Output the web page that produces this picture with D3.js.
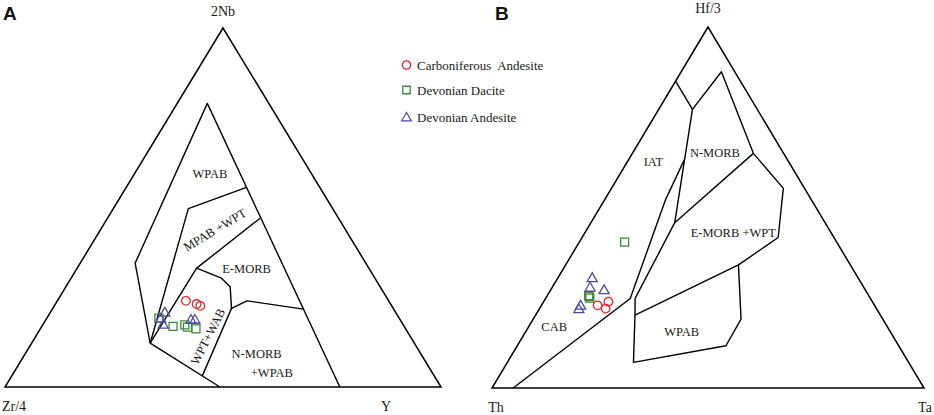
<!DOCTYPE html>
<html>
<head>
<meta charset="utf-8">
<script src="https://cdn.jsdelivr.net/npm/d3@7/dist/d3.min.js"></script>
<style>
  html, body { margin: 0; padding: 0; background: #fff; }
  svg { display: block; }
  .serif { font-family: "Liberation Serif", "Times New Roman", serif; fill: #1a1a1a; }
  .panel { font-family: "Liberation Sans", Arial, sans-serif; font-weight: bold; fill: #111; }
</style>
</head>
<body>
<svg id="chart" width="934" height="415"></svg>
<script>
// ---------------- DATA ----------------
// Ternary compositions in percent, order = [top, left, right]
const vertexLabelsA = ["2Nb", "Zr/4", "Y"];
const vertexLabelsB = ["Hf/3", "Th", "Ta"];
const seriesNames = ["Carboniferous  Andesite", "Devonian Dacite", "Devonian Andesite"];

// Panel A: [2Nb, Zr/4, Y]
const carbAndesiteA = [[24.0, 46.5, 29.5], [23.1, 44.5, 32.4], [22.6, 43.9, 33.5]];
const devDaciteA = [[19.2, 55.1, 25.7], [16.9, 53.0, 30.1], [17.3, 50.1, 32.6], [16.7, 49.8, 33.5], [16.2, 48.1, 35.7]];
const devAndesiteA = [[20.9, 52.9, 26.2], [19.2, 54.7, 26.1], [17.5, 54.9, 27.5], [18.9, 47.9, 33.2], [18.9, 47.0, 34.1]];

// Panel B: [Hf/3, Th, Ta]
const carbAndesiteB = [[22.9, 64.1, 13.0], [23.9, 61.1, 15.0], [22.0, 62.7, 15.3]];
const devDaciteB = [[40.4, 49.1, 10.5], [25.3, 64.9, 9.8], [24.9, 64.9, 10.2], [25.6, 64.8, 9.6]];
const devAndesiteB = [[30.6, 61.5, 7.9], [28.0, 63.3, 8.7], [27.3, 60.4, 12.3], [23.0, 68.0, 9.0], [22.0, 68.9, 9.1]];

// Field boundaries, panel A (Meschede 1986)
const fieldLinesA = [
  [[0, 23.2, 76.8], [79.0, 14.1, 6.9], [34.5, 52.9, 12.6], [12.2, 60.6, 27.2], [0, 50.7, 49.3]],
  [[55.6, 16.8, 27.6], [49.7, 33.1, 17.2], [12.2, 60.6, 27.2]],
  [[47.0, 18.0, 35.0], [33.1, 39.5, 27.4], [12.2, 60.6, 27.2]],
  [[33.1, 39.5, 27.4], [30.3, 35.2, 34.5], [27.9, 34.4, 37.7], [21.9, 37.1, 41.0], [3.1, 53.2, 43.7]],
  [[21.9, 37.1, 41.0], [24.0, 32.5, 43.5], [21.7, 20.7, 57.6]]
];
// Field boundaries, panel B (Wood 1980)
const fieldLinesB = [
  [[85.0, 15.0, 0], [77.2, 15.0, 7.8]],
  [[77.2, 15.0, 7.8], [87.6, 3.1, 9.3], [65.0, 7.0, 28.0], [55.3, 4.9, 39.8], [52.1, 6.8, 41.1], [41.7, 12.9, 45.4]],
  [[77.2, 15.0, 7.8], [45.8, 34.8, 19.4], [24.8, 54.4, 20.7], [20.2, 56.8, 23.0]],
  [[63.2, 23.9, 12.9], [52.1, 33.8, 14.1], [24.8, 55.6, 19.6], [0, 95.1, 4.9]],
  [[65.0, 7.0, 28.0], [45.8, 34.8, 19.4]],
  [[41.7, 12.9, 45.4], [34.1, 25.9, 40.0], [20.2, 56.8, 23.0]],
  [[20.2, 56.8, 23.0], [7.1, 63.7, 29.2], [11.7, 40.0, 48.3], [19.1, 32.8, 48.1], [34.1, 25.9, 40.0]]
];

// Field labels: [text, ternary position, rotation]
const fieldLabelsA = [
  ["WPAB", [59.3, 23.4, 17.4], 0],
  ["MPAB +WPT", [43.7, 30.0, 26.3], -31],
  ["E-MORB", [32.8, 28.2, 39.0], 0],
  ["WPT+WAB", [14.0, 46.4, 39.6], -63],
  ["N-MORB", [9.2, 37.7, 53.1], 0],
  ["+WPAB", [4.0, 36.8, 59.2], 0]
];
const fieldLabelsB = [
  ["IAT", [62.7, 31.3, 6.0], 0],
  ["N-MORB", [65.0, 15.9, 19.1], 0],
  ["E-MORB +WPT", [42.9, 22.7, 34.4], 0],
  ["CAB", [17.0, 77.1, 5.9], 0],
  ["WPAB", [15.6, 48.3, 36.1], 0]
];

// ---------------- DRAWING ----------------
const svg = d3.select("#chart");
const colors = ["#e5262b", "#3b8b3b", "#4b4ba6"];
const symbols = [d3.symbolCircle, d3.symbolSquare, d3.symbolTriangle];
const symSizes = [58, 64, 44];

function makeFrame(x0, x1, yb, yt) {
  const xs = d3.scaleLinear().domain([0, 1]).range([x0, x1]);
  const ys = d3.scaleLinear().domain([0, 1]).range([yb, yt]);
  const f = p => {
    const s = p[0] + p[1] + p[2];
    const a = p[0] / s, c = p[2] / s;
    return [xs(c + a / 2), ys(a)];
  };
  f.xs = xs; f.ys = ys;
  return f;
}

function drawPanel(proj, lines, labels, vlabels, series, panelLetter, letterPos, vOff) {
  const g = svg.append("g");
  const line = d3.line().x(d => proj(d)[0]).y(d => proj(d)[1]);
  // outer triangle
  g.append("path")
    .attr("d", line([[100, 0, 0], [0, 100, 0], [0, 0, 100]]) + "Z")
    .attr("fill", "none").attr("stroke", "#000").attr("stroke-width", 1.5)
    .attr("stroke-linejoin", "miter");
  g.selectAll("path.field").data(lines).join("path")
    .attr("class", "field")
    .attr("d", d => line(d))
    .attr("fill", "none").attr("stroke", "#000").attr("stroke-width", 1.4)
    .attr("stroke-linejoin", "round");
  // field labels
  g.selectAll("text.fl").data(labels).join("text")
    .attr("class", "serif fl")
    .attr("text-anchor", "middle")
    .attr("dominant-baseline", "central")
    .attr("font-size", 12.5)
    .attr("transform", d => {
      const p = proj(d[1]);
      return `translate(${p[0]},${p[1]}) rotate(${d[2]})`;
    })
    .text(d => d[0]);
  // vertex labels
  const top = proj([100, 0, 0]), left = proj([0, 100, 0]), right = proj([0, 0, 100]);
  g.append("text").attr("class", "serif").attr("font-size", 14).attr("text-anchor", "middle")
    .attr("x", top[0]).attr("y", top[1] - vOff.top).text(vlabels[0]);
  g.append("text").attr("class", "serif").attr("font-size", 14).attr("text-anchor", "middle")
    .attr("x", left[0] + vOff.left).attr("y", left[1] + 24).text(vlabels[1]);
  g.append("text").attr("class", "serif").attr("font-size", 14).attr("text-anchor", "middle")
    .attr("x", right[0] + vOff.right).attr("y", right[1] + 24).text(vlabels[2]);
  // panel letter
  g.append("text").attr("class", "panel").attr("font-size", 19)
    .attr("x", letterPos[0]).attr("y", letterPos[1]).text(panelLetter);
  // data points
  series.forEach((pts, i) => {
    const sym = d3.symbol().type(symbols[i]).size(symSizes[i]);
    g.selectAll(null).data(pts).join("path")
      .attr("d", sym)
      .attr("transform", d => {
        const p = proj(d);
        return `translate(${p[0]},${p[1] + (i === 2 ? 1.2 : 0)})`;
      })
      .attr("fill", "none").attr("stroke", colors[i]).attr("stroke-width", 1.3);
  });
}

const projA = makeFrame(5, 441, 387, 28);
const projB = makeFrame(492, 924, 388, 27);

drawPanel(projA, fieldLinesA, fieldLabelsA, vertexLabelsA,
  [carbAndesiteA, devDaciteA, devAndesiteA], "A", [3, 20], {top: 12, left: 9, right: -55});
drawPanel(projB, fieldLinesB, fieldLabelsB, vertexLabelsB,
  [carbAndesiteB, devDaciteB, devAndesiteB], "B", [495, 20], {top: 14, left: 4, right: 1});

// legend
const legend = svg.append("g");
const legendY = [65, 90, 117];
seriesNames.forEach((name, i) => {
  const sym = d3.symbol().type(symbols[i]).size([54, 56, 40][i]);
  legend.append("path").attr("d", sym)
    .attr("transform", `translate(406.5,${legendY[i] + (i === 2 ? 1 : 0)})`)
    .attr("fill", "none").attr("stroke", colors[i]).attr("stroke-width", 1.3);
  legend.append("text").attr("class", "serif").attr("font-size", 13)
    .attr("x", 417).attr("y", legendY[i] + 5).attr("xml:space", "preserve")
    .style("white-space", "pre")
    .text(name);
});
</script>
</body>
</html>
